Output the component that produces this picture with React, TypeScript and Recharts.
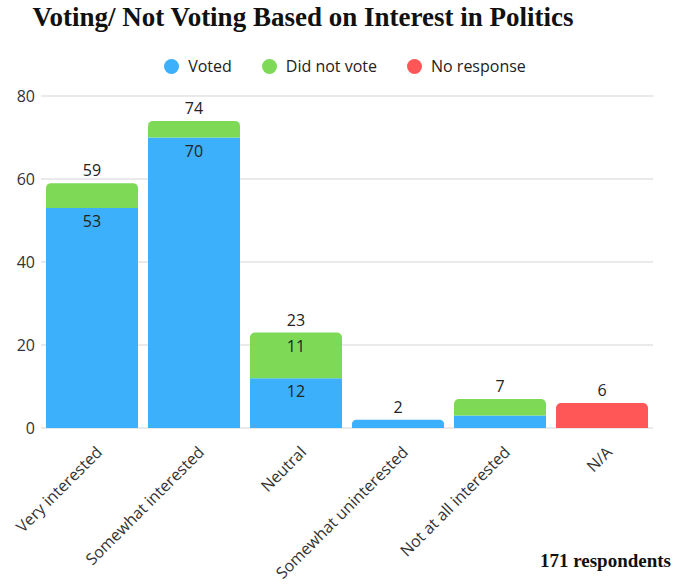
import { BarChart, Bar, XAxis, YAxis, CartesianGrid, LabelList, Cell } from 'recharts'

document.body.style.margin = '0'

const categories = [
    'Very interested',
    'Somewhat interested',
    'Neutral',
    'Somewhat uninterested',
    'Not at all interested',
    'N/A',
]
const voted = [53, 70, 12, 2, 3, 0]
const didNotVote = [6, 4, 11, 0, 4, 0]
const noResponse = [0, 0, 0, 0, 0, 6]
const yTicks = [0, 20, 40, 60, 80]

const BLUE = '#3DB0FC'
const GREEN = '#7ED957'
const RED = '#FF5757'
const SANS = '"Open Sans", "Noto Sans", sans-serif'
const SERIF = '"Liberation Serif", "DejaVu Serif", serif'

// which series is the top (non-empty) segment of each stack
const series = [voted, didNotVote, noResponse]
const topSeries = categories.map((_, i) => {
    let top = 0
    series.forEach((s, k) => {
        if (s[i] > 0) top = k
    })
    return top
})

const data = categories.map((name, i) => {
    const total = voted[i] + didNotVote[i] + noResponse[i]
    return {
        name,
        voted: voted[i],
        didNotVote: didNotVote[i],
        noResponse: noResponse[i],
        // total is shown above the top segment only
        total0: topSeries[i] === 0 ? total : null,
        total1: topSeries[i] === 1 ? total : null,
        total2: topSeries[i] === 2 ? total : null,
    }
})

const topRadius = (isTop: boolean): any => (isTop ? [5, 5, 0, 0] : [0, 0, 0, 0])

function InnerLabel(props: any) {
    const { x, y, width, value } = props
    if (value == null || value < 10) return null
    return (
        <text x={x + width / 2} y={y + 19} textAnchor="middle" fontSize={16} fill="#222" fontFamily={SANS}>
            {value}
        </text>
    )
}

function TotalLabel(props: any) {
    const { x, y, width, value } = props
    if (value == null) return null
    return (
        <text x={x + width / 2} y={y - 7} textAnchor="middle" fontSize={16} fill="#222" fontFamily={SANS}>
            {value}
        </text>
    )
}

function XTick({ x, y, payload }: any) {
    return (
        <text
            transform={`translate(${x + 7}, ${y + 13}) rotate(-45)`}
            textAnchor="end"
            dominantBaseline="central"
            fontSize={16}
            fill="#333"
            fontFamily={SANS}
        >
            {payload.value}
        </text>
    )
}

function LegendItem({ color, label }: { color: string; label: string }) {
    return (
        <span style={{ display: 'inline-flex', alignItems: 'center', margin: '0 15px' }}>
            <span style={{ width: 15, height: 15, borderRadius: '50%', background: color, marginRight: 9 }} />
            <span>{label}</span>
        </span>
    )
}

export default function App() {
    return (
        <div style={{ position: 'relative', width: 674, height: 586, background: '#fff', overflow: 'hidden' }}>
            <div
                style={{
                    position: 'absolute',
                    top: 2,
                    left: 0,
                    width: 606,
                    textAlign: 'center',
                    fontFamily: SERIF,
                    fontWeight: 'bold',
                    fontSize: 27,
                    color: '#111',
                }}
            >
                Voting/ Not Voting Based on Interest in Politics
            </div>
            <div
                style={{
                    position: 'absolute',
                    top: 55,
                    left: 0,
                    width: 690,
                    display: 'flex',
                    justifyContent: 'center',
                    fontFamily: SANS,
                    fontSize: 16,
                    color: '#222',
                }}
            >
                <LegendItem color={BLUE} label="Voted" />
                <LegendItem color={GREEN} label="Did not vote" />
                <LegendItem color={RED} label="No response" />
            </div>
            <BarChart
                width={674}
                height={586}
                data={data}
                margin={{ top: 96, right: 21, bottom: 28, left: 0 }}
                barCategoryGap={5}
            >
                <CartesianGrid vertical={false} stroke="#e3e3e3" strokeWidth={1.5} />
                <XAxis
                    dataKey="name"
                    interval={0}
                    height={130}
                    axisLine={false}
                    tickLine={false}
                    tick={<XTick />}
                />
                <YAxis
                    width={41}
                    domain={[0, 80]}
                    ticks={yTicks}
                    axisLine={false}
                    tickLine={false}
                    tickMargin={0}
                    tick={{ fill: '#333', fontSize: 16, fontFamily: SANS }}
                />
                <Bar dataKey="voted" stackId="a" fill={BLUE} isAnimationActive={false}>
                    {data.map((_, i) => (
                        <Cell key={i} radius={topRadius(topSeries[i] === 0)} />
                    ))}
                    <LabelList dataKey="voted" content={<InnerLabel />} />
                    <LabelList dataKey="total0" content={<TotalLabel />} />
                </Bar>
                <Bar dataKey="didNotVote" stackId="a" fill={GREEN} isAnimationActive={false}>
                    {data.map((_, i) => (
                        <Cell key={i} radius={topRadius(topSeries[i] === 1)} />
                    ))}
                    <LabelList dataKey="didNotVote" content={<InnerLabel />} />
                    <LabelList dataKey="total1" content={<TotalLabel />} />
                </Bar>
                <Bar dataKey="noResponse" stackId="a" fill={RED} radius={[5, 5, 0, 0]} isAnimationActive={false}>
                    <LabelList dataKey="total2" content={<TotalLabel />} />
                </Bar>
            </BarChart>
            <div
                style={{
                    position: 'absolute',
                    top: 550,
                    right: 3,
                    fontFamily: SERIF,
                    fontWeight: 'bold',
                    fontSize: 19,
                    color: '#111',
                }}
            >
                171 respondents
            </div>
        </div>
    )
}
